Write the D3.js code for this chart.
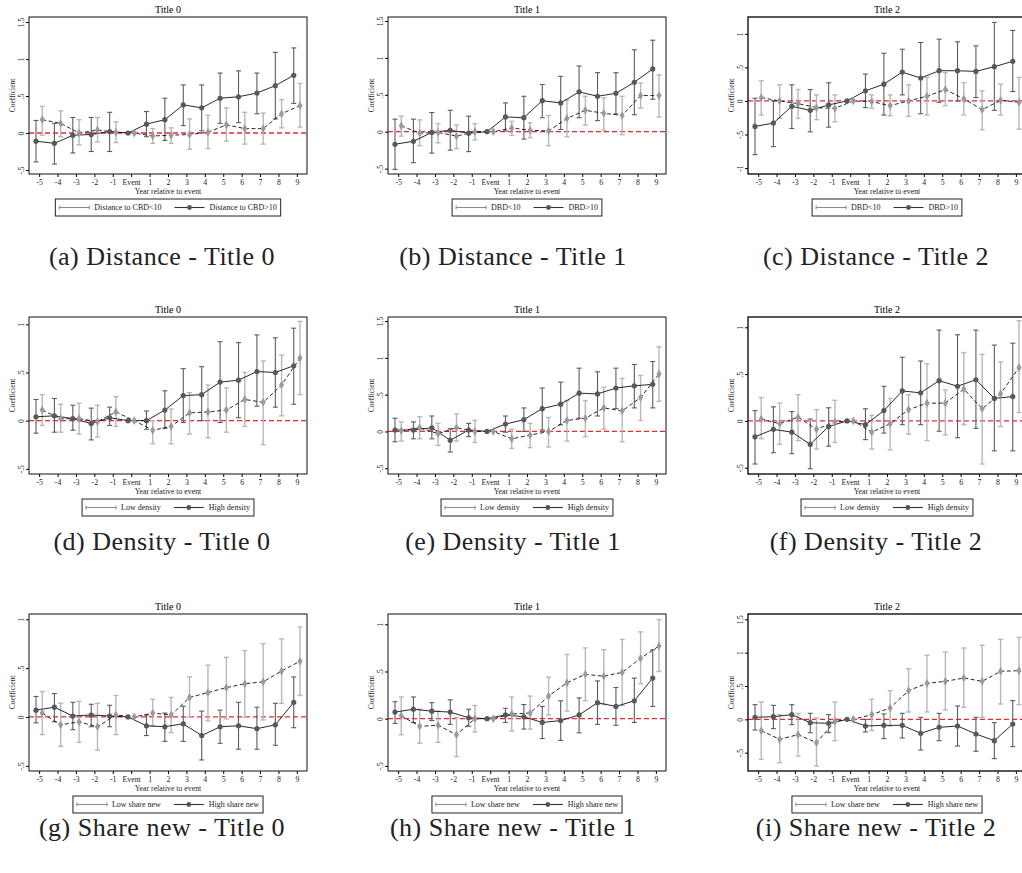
<!DOCTYPE html>
<html>
<head>
<meta charset="utf-8">
<script src="https://cdn.jsdelivr.net/npm/d3@7"></script>
<style>
  body { margin: 0; background: #fff; }
  svg { display: block; }
</style>
</head>
<body>
<svg width="1022" height="873"></svg>
<script>
// x axis: years relative to event
var yearPos = [-5, -4, -3, -2, -1, 0, 1, 2, 3, 4, 5, 6, 7, 8, 9];
var yearLabels = ["-5", "-4", "-3", "-2", "-1", "Event", "1", "2", "3", "4", "5", "6", "7", "8", "9"];

// each entry: [coefficient, ci low, ci high]
var distT0Low = [[0.18,-0.03,0.36],[0.13,-0.05,0.30],[0.0,-0.16,0.18],[0.04,-0.12,0.21],[0.01,-0.13,0.15],[0,0,0],[-0.04,-0.14,0.06],[-0.03,-0.14,0.07],[-0.02,-0.22,0.19],[0.01,-0.21,0.24],[0.11,-0.11,0.34],[0.06,-0.15,0.28],[0.06,-0.15,0.27],[0.26,0.07,0.45],[0.37,0.08,0.67]];
var distT0High = [[-0.11,-0.39,0.17],[-0.14,-0.42,0.13],[-0.03,-0.27,0.21],[-0.02,-0.25,0.21],[0.02,-0.25,0.28],[0,0,0],[0.12,-0.05,0.29],[0.18,-0.10,0.47],[0.38,0.10,0.65],[0.34,0.03,0.65],[0.47,0.13,0.81],[0.49,0.14,0.84],[0.54,0.26,0.81],[0.64,0.19,1.09],[0.78,0.40,1.15]];
var distT1Low = [[0.08,-0.06,0.21],[-0.02,-0.19,0.16],[-0.01,-0.15,0.11],[-0.06,-0.23,0.09],[0.0,-0.11,0.11],[0,0,0],[0.05,-0.05,0.14],[0.02,-0.08,0.12],[0.01,-0.19,0.22],[0.18,-0.07,0.43],[0.29,0.09,0.48],[0.25,0.02,0.46],[0.22,-0.04,0.48],[0.49,0.32,0.66],[0.49,0.20,0.77]];
var distT1High = [[-0.17,-0.51,0.17],[-0.13,-0.42,0.17],[-0.01,-0.29,0.26],[0.02,-0.25,0.29],[-0.02,-0.27,0.21],[0,0,0],[0.20,0.01,0.39],[0.19,-0.10,0.48],[0.42,0.19,0.64],[0.39,0.03,0.75],[0.54,0.19,0.89],[0.48,0.15,0.80],[0.52,0.24,0.80],[0.67,0.23,1.11],[0.85,0.44,1.24]];
var distT2Low = [[0.05,-0.21,0.30],[0.0,-0.26,0.24],[-0.04,-0.26,0.17],[-0.10,-0.28,0.09],[-0.11,-0.31,0.09],[0,0,0],[-0.01,-0.11,0.09],[-0.07,-0.22,0.09],[0.0,-0.23,0.24],[0.07,-0.21,0.35],[0.17,-0.07,0.42],[0.03,-0.21,0.27],[-0.13,-0.43,0.15],[0.01,-0.21,0.25],[-0.02,-0.42,0.35]];
var distT2High = [[-0.38,-0.80,0.04],[-0.33,-0.68,0.0],[-0.08,-0.41,0.24],[-0.14,-0.46,0.17],[-0.06,-0.39,0.27],[0,0,0],[0.15,-0.10,0.40],[0.25,-0.21,0.71],[0.43,0.09,0.77],[0.34,-0.19,0.87],[0.45,-0.02,0.92],[0.45,0.0,0.88],[0.44,0.05,0.82],[0.51,-0.14,1.17],[0.59,0.14,1.05]];

var densT0Low = [[0.11,-0.05,0.27],[0.02,-0.12,0.17],[0.02,-0.14,0.18],[-0.01,-0.17,0.16],[0.09,-0.06,0.25],[0,0,0],[-0.10,-0.24,0.0],[-0.06,-0.24,0.12],[0.08,-0.14,0.29],[0.09,-0.18,0.37],[0.11,-0.12,0.34],[0.22,-0.06,0.50],[0.19,-0.25,0.62],[0.37,0.05,0.68],[0.65,0.27,1.03]];
var densT0High = [[0.04,-0.13,0.22],[0.05,-0.12,0.23],[0.02,-0.10,0.16],[-0.03,-0.20,0.13],[0.03,-0.05,0.14],[0,0,0],[0.0,-0.09,0.10],[0.11,-0.08,0.31],[0.26,-0.02,0.54],[0.27,0.0,0.56],[0.40,-0.02,0.82],[0.42,0.03,0.81],[0.51,0.15,0.89],[0.50,0.14,0.86],[0.57,0.17,0.96]];
var densT1Low = [[0.01,-0.13,0.13],[0.05,-0.10,0.20],[-0.03,-0.19,0.11],[0.05,-0.13,0.24],[0.0,-0.15,0.15],[0,0,0],[-0.10,-0.23,0.03],[-0.05,-0.22,0.11],[0.0,-0.21,0.19],[0.15,-0.13,0.42],[0.18,-0.07,0.42],[0.32,0.03,0.60],[0.28,-0.14,0.72],[0.46,0.15,0.76],[0.78,0.41,1.15]];
var densT1High = [[0.02,-0.14,0.18],[0.02,-0.10,0.13],[0.05,-0.10,0.21],[-0.12,-0.28,0.04],[0.02,-0.07,0.11],[0,0,0],[0.10,-0.01,0.21],[0.16,0.0,0.32],[0.31,0.02,0.59],[0.37,0.09,0.67],[0.52,0.18,0.86],[0.51,0.21,0.81],[0.59,0.31,0.86],[0.62,0.32,0.91],[0.64,0.32,0.95]];
var densT2Low = [[0.02,-0.19,0.25],[-0.03,-0.25,0.19],[0.04,-0.21,0.28],[-0.09,-0.30,0.12],[-0.01,-0.23,0.22],[0,0,0],[-0.12,-0.30,0.06],[-0.03,-0.31,0.24],[0.12,-0.14,0.28],[0.19,-0.21,0.61],[0.19,-0.15,0.33],[0.34,-0.04,0.73],[0.13,-0.46,0.71],[0.29,-0.06,0.63],[0.57,0.09,1.07]];
var densT2High = [[-0.17,-0.46,0.11],[-0.09,-0.34,0.15],[-0.12,-0.35,0.10],[-0.25,-0.51,0.02],[-0.06,-0.27,0.14],[0,0,0],[-0.04,-0.20,0.13],[0.11,-0.13,0.37],[0.32,-0.04,0.68],[0.30,-0.04,0.64],[0.43,-0.11,0.97],[0.37,-0.18,0.92],[0.44,-0.08,0.97],[0.24,-0.32,0.81],[0.26,-0.32,0.83]];

var shareT0Low = [[0.04,-0.18,0.26],[-0.08,-0.30,0.14],[-0.05,-0.26,0.16],[-0.10,-0.34,0.14],[0.02,-0.18,0.22],[0,0,0],[0.04,-0.09,0.18],[0.02,-0.16,0.20],[0.20,0.0,0.41],[0.25,-0.04,0.53],[0.30,-0.02,0.61],[0.34,0.0,0.68],[0.36,-0.03,0.75],[0.47,0.14,0.80],[0.57,0.22,0.92]];
var shareT0High = [[0.07,-0.06,0.21],[0.10,-0.05,0.24],[0.01,-0.13,0.15],[0.02,-0.10,0.13],[0.01,-0.10,0.12],[0,0,0],[-0.09,-0.19,0.02],[-0.10,-0.25,0.04],[-0.07,-0.25,0.11],[-0.19,-0.44,0.06],[-0.10,-0.27,0.07],[-0.09,-0.33,0.15],[-0.12,-0.33,0.10],[-0.08,-0.29,0.14],[0.15,-0.11,0.41]];
var shareT1Low = [[0.03,-0.17,0.23],[-0.08,-0.26,0.10],[-0.07,-0.25,0.08],[-0.17,-0.40,0.01],[0.0,-0.14,0.14],[0,0,0],[0.05,-0.13,0.23],[0.06,-0.11,0.24],[0.24,0.04,0.44],[0.38,0.08,0.68],[0.47,0.19,0.75],[0.45,0.15,0.73],[0.49,0.14,0.84],[0.64,0.37,0.92],[0.77,0.50,1.05]];
var shareT1High = [[0.07,-0.05,0.18],[0.10,-0.04,0.23],[0.08,-0.02,0.17],[0.07,-0.06,0.20],[0.01,-0.08,0.10],[0,0,0],[0.04,-0.04,0.11],[0.02,-0.11,0.15],[-0.04,-0.21,0.13],[-0.02,-0.23,0.19],[0.04,-0.15,0.22],[0.17,-0.06,0.40],[0.13,-0.07,0.33],[0.19,-0.04,0.43],[0.43,0.13,0.73]];
var shareT2Low = [[-0.17,-0.60,0.26],[-0.30,-0.65,0.07],[-0.23,-0.55,0.09],[-0.35,-0.70,0.02],[-0.03,-0.32,0.26],[0,0,0],[0.07,-0.17,0.30],[0.17,-0.10,0.43],[0.43,0.11,0.76],[0.54,0.11,0.96],[0.57,0.14,1.01],[0.62,0.18,1.07],[0.57,0.03,1.11],[0.72,0.23,1.20],[0.73,0.22,1.23]];
var shareT2High = [[0.03,-0.16,0.22],[0.04,-0.14,0.21],[0.07,-0.08,0.22],[-0.05,-0.20,0.09],[-0.06,-0.20,0.07],[0,0,0],[-0.10,-0.19,0.0],[-0.09,-0.29,0.08],[-0.09,-0.28,0.09],[-0.21,-0.46,0.03],[-0.12,-0.32,0.09],[-0.10,-0.40,0.20],[-0.22,-0.48,0.03],[-0.32,-0.59,-0.05],[-0.07,-0.41,0.28]];

// panel texts
var panelTitles = ["Title 0", "Title 1", "Title 2", "Title 0", "Title 1", "Title 2", "Title 0", "Title 1", "Title 2"];
var captions = ["(a) Distance - Title 0", "(b) Distance - Title 1", "(c) Distance - Title 2",
                "(d) Density - Title 0", "(e) Density - Title 1", "(f) Density - Title 2",
                "(g) Share new - Title 0", "(h) Share new - Title 1", "(i) Share new - Title 2"];
var lowLabels = ["Distance to CBD<10", "DBD<10", "DBD<10", "Low density", "Low density", "Low density", "Low share new", "Low share new", "Low share new"];
var highLabels = ["Distance to CBD>10", "DBD>10", "DBD>10", "High density", "High density", "High density", "High share new", "High share new", "High share new"];
var lowSeries = [distT0Low, distT1Low, distT2Low, densT0Low, densT1Low, densT2Low, shareT0Low, shareT1Low, shareT2Low];
var highSeries = [distT0High, distT1High, distT2High, densT0High, densT1High, densT2High, shareT0High, shareT1High, shareT2High];

// y axis ranges and ticks
var yRanges = [[-0.554, 1.568], [-0.573, 1.554], [-1.088, 1.25],
               [-0.554, 1.076], [-0.578, 1.555], [-0.567, 1.11],
               [-0.553, 1.054], [-0.554, 1.109], [-0.775, 1.58]];
var yTicks = [[-0.5, 0, 0.5, 1, 1.5], [-0.5, 0, 0.5, 1, 1.5], [-1, -0.5, 0, 0.5, 1],
              [-0.5, 0, 0.5, 1], [-0.5, 0, 0.5, 1, 1.5], [-0.5, 0, 0.5, 1],
              [-0.5, 0, 0.5, 1], [-0.5, 0, 0.5, 1], [-0.5, 0, 0.5, 1, 1.5]];

var svg = d3.select("svg");
var serif = "'Liberation Serif', 'Times New Roman', serif";
var colLeft = [29, 388, 748], rowTop = [17, 317, 614];
var frameW = 278, frameH = 157;
var captionX = [162, 513, 876], captionY = [265, 550, 836];
var offHigh = -0.17, offLow = 0.17;

svg.append("rect").attr("width", 1022).attr("height", 873).attr("fill", "#fff");

var fmtY = d => d === 0 ? "0" : String(d).replace("0.", ".");

panelTitles.forEach(function(title, i) {
  var col = i % 3, row = Math.floor(i / 3);
  var g = svg.append("g").attr("transform", `translate(${colLeft[col]},${rowTop[row]})`);
  var x = d3.scaleLinear().domain([-5.55, 9.55]).range([0, frameW]);
  var y = d3.scaleLinear().domain(yRanges[i]).range([frameH, 0]);

  // title
  g.append("text")
      .attr("x", frameW / 2).attr("y", -4)
      .attr("text-anchor", "middle")
      .attr("font-family", serif).attr("font-size", 10)
      .text(title);

  // axes
  g.append("g")
      .attr("transform", `translate(0,${frameH})`)
      .call(d3.axisBottom(x).tickValues(yearPos).tickFormat((d, k) => yearLabels[k]).tickSize(3).tickSizeOuter(0))
      .call(a => a.select(".domain").remove())
      .call(a => a.selectAll("text").attr("font-family", serif).attr("font-size", 7.8).attr("fill", "#222").attr("y", 5.5));

  g.append("g")
      .call(d3.axisLeft(y).tickValues(yTicks[i]).tickFormat(fmtY).tickSize(3).tickSizeOuter(0))
      .call(a => a.select(".domain").remove())
      .call(a => a.selectAll("text")
          .attr("font-family", serif).attr("font-size", 7.5).attr("fill", "#222")
          .attr("transform", "rotate(-90)")
          .attr("x", 0).attr("y", -5).attr("dy", 0)
          .attr("text-anchor", "middle"));

  g.append("text")
      .attr("transform", `translate(-14,${frameH / 2}) rotate(-90)`)
      .attr("text-anchor", "middle")
      .attr("font-family", serif).attr("font-size", 7.5).attr("fill", "#222")
      .text("Coefficient");

  g.append("text")
      .attr("x", frameW / 2).attr("y", frameH + 20)
      .attr("text-anchor", "middle")
      .attr("font-family", serif).attr("font-size", 7.8).attr("fill", "#222")
      .text("Year relative to event");

  // zero reference
  g.append("line")
      .attr("x1", 0).attr("x2", frameW)
      .attr("y1", y(0)).attr("y2", y(0))
      .attr("stroke", "#e8282c").attr("stroke-width", 1.3)
      .attr("stroke-dasharray", "5,3");

  var series = [
    {data: highSeries[i], off: offHigh, bar: "#5c5c5c", bw: 1.1},
    {data: lowSeries[i], off: offLow, bar: "#b8b8b8", bw: 1.4}
  ];

  // error bars
  series.forEach(function(s) {
    var pts = s.data.map((d, k) => ({pos: yearPos[k] + s.off, c: d[0], lo: d[1], hi: d[2]}))
        .filter(d => d.lo !== d.hi);
    var eb = g.append("g").attr("stroke", s.bar).attr("stroke-width", s.bw).attr("fill", "none");
    eb.selectAll(".v").data(pts).join("line")
        .attr("x1", d => x(d.pos)).attr("x2", d => x(d.pos))
        .attr("y1", d => y(d.lo)).attr("y2", d => y(d.hi));
    eb.selectAll(".capl").data(pts).join("line")
        .attr("x1", d => x(d.pos) - 2.5).attr("x2", d => x(d.pos) + 2.5)
        .attr("y1", d => y(d.lo)).attr("y2", d => y(d.lo));
    eb.selectAll(".caph").data(pts).join("line")
        .attr("x1", d => x(d.pos) - 2.5).attr("x2", d => x(d.pos) + 2.5)
        .attr("y1", d => y(d.hi)).attr("y2", d => y(d.hi));
  });

  // lines
  var line = d3.line().x(d => x(d.pos)).y(d => y(d.c));
  var hi = highSeries[i].map((d, k) => ({pos: yearPos[k] + offHigh, c: d[0]}));
  var lo = lowSeries[i].map((d, k) => ({pos: yearPos[k] + offLow, c: d[0]}));

  g.append("path").datum(lo)
      .attr("fill", "none").attr("stroke", "#111").attr("stroke-width", 0.9)
      .attr("stroke-dasharray", "4,2.5")
      .attr("d", line);
  g.append("path").datum(hi)
      .attr("fill", "none").attr("stroke", "#111").attr("stroke-width", 0.9)
      .attr("d", line);

  // markers
  g.append("g").selectAll("path").data(lo).join("path")
      .attr("transform", d => `translate(${x(d.pos)},${y(d.c)})`)
      .attr("d", d3.symbol(d3.symbolDiamond, 22))
      .attr("fill", "#9a9a9a");
  g.append("g").selectAll("circle").data(hi).join("circle")
      .attr("cx", d => x(d.pos)).attr("cy", d => y(d.c))
      .attr("r", 2.6)
      .attr("fill", "#585858");

  // frame
  g.append("rect")
      .attr("width", frameW).attr("height", frameH)
      .attr("fill", "none").attr("stroke", "#111").attr("stroke-width", col === 2 ? 1.4 : 1);

  // legend
  var lg = g.append("g");
  var box = lg.append("rect").attr("fill", "#fff").attr("stroke", "#222").attr("stroke-width", 1);
  var k1 = lg.append("g").attr("stroke", "#8a8a8a").attr("stroke-width", 1);
  k1.append("line").attr("x1", 0).attr("x2", 30).attr("y1", 8.5).attr("y2", 8.5);
  k1.append("line").attr("x1", 0).attr("x2", 0).attr("y1", 6.5).attr("y2", 10.5);
  k1.append("line").attr("x1", 30).attr("x2", 30).attr("y1", 6.5).attr("y2", 10.5);
  var t1 = lg.append("text").attr("x", 35).attr("y", 11.3)
      .attr("font-family", serif).attr("font-size", 8).attr("fill", "#222")
      .text(lowLabels[i]);
  var k2x = 35 + t1.node().getComputedTextLength() + 13;
  lg.append("line").attr("x1", k2x).attr("x2", k2x + 30).attr("y1", 8.5).attr("y2", 8.5)
      .attr("stroke", "#333").attr("stroke-width", 1.1);
  lg.append("circle").attr("cx", k2x + 15).attr("cy", 8.5).attr("r", 2.4).attr("fill", "#555");
  var t2 = lg.append("text").attr("x", k2x + 35).attr("y", 11.3)
      .attr("font-family", serif).attr("font-size", 8).attr("fill", "#222")
      .text(highLabels[i]);
  var w = k2x + 35 + t2.node().getComputedTextLength() + 4;
  box.attr("x", -4).attr("y", 0).attr("width", w + 4).attr("height", 17);
  lg.attr("transform", `translate(${frameW / 2 - w / 2 + 2},${frameH + 25})`);

  // caption
  svg.append("text")
      .attr("x", captionX[col]).attr("y", captionY[row])
      .attr("text-anchor", "middle")
      .attr("font-family", serif).attr("font-size", 26).attr("letter-spacing", 0.5)
      .attr("fill", "#222")
      .text(captions[i]);
});
</script>
</body>
</html>
